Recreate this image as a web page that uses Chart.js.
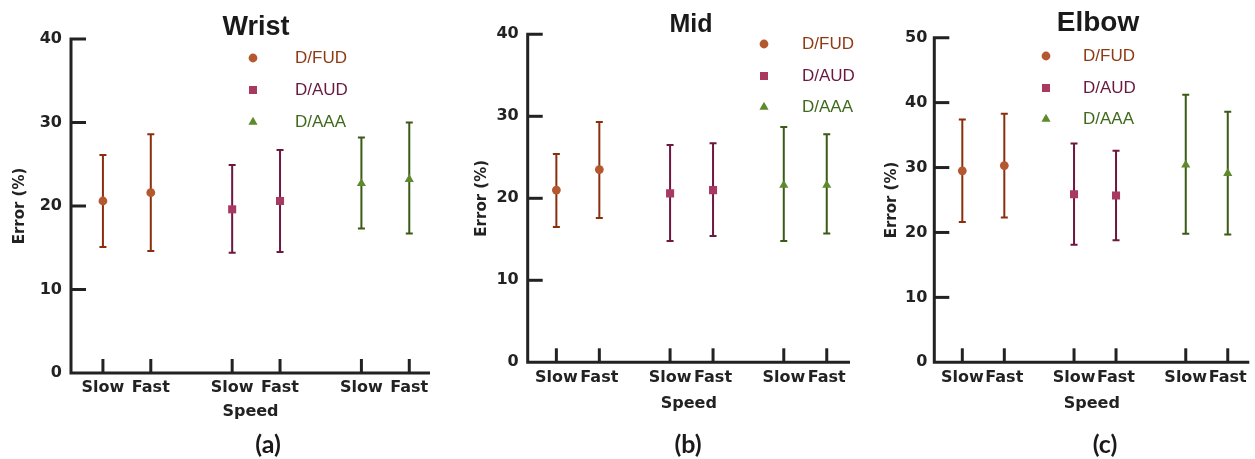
<!DOCTYPE html>
<html>
<head>
<meta charset="utf-8">
<script src="https://cdn.jsdelivr.net/npm/chart.js@4.4.1/dist/chart.umd.min.js"></script>
<style>
  body { margin: 0; background: #fff; }
  canvas { position: absolute; top: 0; }
</style>
</head>
<body>
<canvas id="wristChart" width="440" height="459" style="left:0"></canvas>
<canvas id="midChart" width="435" height="459" style="left:440px"></canvas>
<canvas id="elbowChart" width="405" height="459" style="left:850px"></canvas>
<script>
// Categories
const speedLabels = ['Slow', 'Fast'];
const methodLabels = ['D/FUD', 'D/AUD', 'D/AAA'];

// Values in order: FUD slow, FUD fast, AUD slow, AUD fast, AAA slow, AAA fast
const wristMean = [20.6, 21.6, 19.6, 20.6, 22.7, 23.2];
const wristLow  = [15.1, 14.6, 14.4, 14.5, 17.3, 16.7];
const wristHigh = [26.1, 28.6, 24.9, 26.7, 28.2, 30.0];

const midMean = [21.0, 23.5, 20.6, 21.0, 21.6, 21.6];
const midLow  = [16.5, 17.6, 14.8, 15.4, 14.8, 15.7];
const midHigh = [25.4, 29.3, 26.5, 26.7, 28.7, 27.8];

const elbowMean = [29.5, 30.3, 25.9, 25.7, 30.4, 29.1];
const elbowLow  = [21.6, 22.3, 18.1, 18.8, 19.8, 19.7];
const elbowHigh = [37.4, 38.3, 33.7, 32.6, 41.2, 38.6];

// Tick labels
const wristTicks = [0, 10, 20, 30, 40];
const midTicks = [0, 10, 20, 30, 40];
const elbowTicks = [0, 10, 20, 30, 40, 50];

const methodStyles = [
  { point: 'circle',   radius: 4.4, fill: '#b5582f', bar: '#8a2f0d', text: '#8f3a14' },
  { point: 'rect',     radius: 5.7, fill: '#a83a62', bar: '#6e1840', text: '#6a1a3f' },
  { point: 'triangle', radius: 5.3, fill: '#5e8a2b', bar: '#3b5a16', text: '#3f6a1c' }
];

const AXIS = '#222';
const SANS = '"Liberation Sans", Arial, sans-serif';
const WIDE = '"DejaVu Sans", sans-serif';

// Error bars, axes, title, legend and panel tag
const panelDecor = {
  id: 'panelDecor',
  beforeDatasetsDraw(chart, args, opts) {
    const ctx = chart.ctx;
    const { left, right, bottom } = chart.chartArea;
    const yScale = chart.scales.y;
    const topY = yScale.getPixelForValue(yScale.max);

    ctx.save();
    ctx.strokeStyle = AXIS;
    ctx.lineWidth = 3;
    ctx.lineJoin = 'miter';
    ctx.beginPath();
    ctx.moveTo(left + 15, topY);
    ctx.lineTo(left, topY);
    ctx.lineTo(left, bottom);
    ctx.lineTo(right, bottom);
    ctx.stroke();

    // inward y ticks
    yScale.ticks.forEach(t => {
      if (t.value === yScale.min || t.value === yScale.max) return;
      const y = yScale.getPixelForValue(t.value);
      ctx.beginPath();
      ctx.moveTo(left, y);
      ctx.lineTo(left + 15, y);
      ctx.stroke();
    });

    // upward x ticks
    chart.scales.x.ticks.forEach(t => {
      const x = chart.scales.x.getPixelForValue(t.value);
      ctx.beginPath();
      ctx.moveTo(x, bottom);
      ctx.lineTo(x, bottom - 14);
      ctx.stroke();
    });

    // error bars
    chart.data.datasets.forEach((ds, di) => {
      const meta = chart.getDatasetMeta(di);
      ctx.strokeStyle = methodStyles[di].bar;
      ctx.lineWidth = 2;
      meta.data.forEach((el, i) => {
        const d = ds.data[i];
        const yl = yScale.getPixelForValue(d.low);
        const yh = yScale.getPixelForValue(d.high);
        ctx.beginPath();
        ctx.moveTo(el.x, yl);
        ctx.lineTo(el.x, yh);
        ctx.moveTo(el.x - 3.5, yl);
        ctx.lineTo(el.x + 3.5, yl);
        ctx.moveTo(el.x - 3.5, yh);
        ctx.lineTo(el.x + 3.5, yh);
        ctx.stroke();
      });
    });
    ctx.restore();
  },
  afterDraw(chart, args, opts) {
    const ctx = chart.ctx;
    ctx.save();
    ctx.textAlign = 'center';
    ctx.textBaseline = 'middle';
    ctx.fillStyle = '#1a1a1a';
    ctx.font = 'bold ' + opts.title.size + 'px ' + SANS;
    ctx.fillText(opts.title.text, opts.title.x, opts.title.y);

    ctx.font = 'bold 25px Lato, "Open Sans", sans-serif';
    ctx.fillText(opts.tag.text, opts.tag.x, opts.tag.y);

    ctx.textAlign = 'left';
    ctx.font = '17px ' + SANS;
    methodLabels.forEach((label, m) => {
      const st = methodStyles[m];
      const y = opts.legend.rows[m];
      ctx.fillStyle = st.fill;
      Chart.helpers.drawPoint(ctx, { pointStyle: st.point, radius: st.radius, borderWidth: 0, rotation: 0 }, opts.legend.markerX, y);
      ctx.fillStyle = st.text;
      ctx.fillText(label, opts.legend.textX, y);
    });
    ctx.restore();
  }
};

function makePanel(cfg) {
  const W = document.getElementById(cfg.id).width;
  const H = 459;
  const positions = [];
  const datasets = methodLabels.map((label, m) => {
    const st = methodStyles[m];
    return {
      label: label,
      data: speedLabels.map((s, i) => {
        const x = 0.667 + m * cfg.groupStep + i;
        positions.push(x);
        const k = m * 2 + i;
        return { x: x, y: cfg.mean[k], low: cfg.low[k], high: cfg.high[k] };
      }),
      pointStyle: st.point,
      pointRadius: st.radius,
      backgroundColor: st.fill,
      borderWidth: 0,
      showLine: false
    };
  });

  return new Chart(document.getElementById(cfg.id), {
    type: 'scatter',
    data: { datasets: datasets },
    options: {
      responsive: false,
      animation: false,
      events: [],
      layout: { padding: { left: 0, top: cfg.area.top, right: W - cfg.area.right, bottom: 0 } },
      scales: {
        x: {
          type: 'linear',
          min: 0,
          max: 7.5,
          grid: { display: false, drawTicks: false },
          border: { display: false },
          afterBuildTicks: scale => { scale.ticks = positions.map(v => ({ value: v })); },
          afterFit: scale => { scale.height = H - cfg.area.bottom; },
          ticks: {
            autoSkip: false,
            maxRotation: 0,
            padding: cfg.xTickPad,
            color: AXIS,
            font: { family: WIDE, size: 16, weight: 'bold' },
            callback: (v, i) => speedLabels[i % 2]
          },
          title: {
            display: true,
            text: 'Speed',
            color: AXIS,
            font: { family: WIDE, size: 16, weight: 'bold' },
            padding: { top: 0, bottom: H - cfg.speedY - 9.6 }
          }
        },
        y: {
          min: 0,
          max: cfg.ticks[cfg.ticks.length - 1],
          grid: { display: false, drawTicks: false },
          border: { display: false },
          afterBuildTicks: scale => { scale.ticks = cfg.ticks.map(v => ({ value: v })); },
          afterFit: scale => { scale.width = cfg.area.left; },
          ticks: {
            padding: cfg.yTickPad,
            color: AXIS,
            font: { family: WIDE, size: 16, weight: 'bold' }
          },
          title: {
            display: true,
            text: 'Error (%)',
            color: AXIS,
            font: { family: WIDE, size: 15, weight: 'bold' },
            padding: { top: cfg.yTitleX - 9, bottom: 0 }
          }
        }
      },
      plugins: {
        legend: { display: false },
        tooltip: { enabled: false },
        panelDecor: { title: cfg.title, legend: cfg.legend, tag: cfg.tag }
      }
    },
    plugins: [panelDecor]
  });
}

makePanel({
  id: 'wristChart', mean: wristMean, low: wristLow, high: wristHigh, ticks: wristTicks,
  area: { left: 71, top: 39, right: 430, bottom: 373 }, groupStep: 2.70,
  xTickPad: 5, yTickPad: 9, yTitleX: 20, speedY: 412,
  title: { text: 'Wrist', x: 256, y: 28, size: 27 },
  legend: { markerX: 253, textX: 295, rows: [58, 90, 122] },
  tag: { text: '(a)', x: 268, y: 445 }
});

makePanel({
  id: 'midChart', mean: midMean, low: midLow, high: midHigh, ticks: midTicks,
  area: { left: 87.7, top: 34.3, right: 410, bottom: 362.3 }, groupStep: 2.646,
  xTickPad: 6, yTickPad: 9, yTitleX: 42, speedY: 404,
  title: { text: 'Mid', x: 251, y: 25, size: 25 },
  legend: { markerX: 324, textX: 362, rows: [44, 76, 107] },
  tag: { text: '(b)', x: 248, y: 445 }
});

makePanel({
  id: 'elbowChart', mean: elbowMean, low: elbowLow, high: elbowHigh, ticks: elbowTicks,
  area: { left: 84.3, top: 37.7, right: 405, bottom: 362.3 }, groupStep: 2.66,
  xTickPad: 6, yTickPad: 7, yTitleX: 42, speedY: 404,
  title: { text: 'Elbow', x: 248, y: 23, size: 28 },
  legend: { markerX: 196, textX: 233, rows: [56, 88, 119] },
  tag: { text: '(c)', x: 255, y: 445 }
});
</script>
</body>
</html>
